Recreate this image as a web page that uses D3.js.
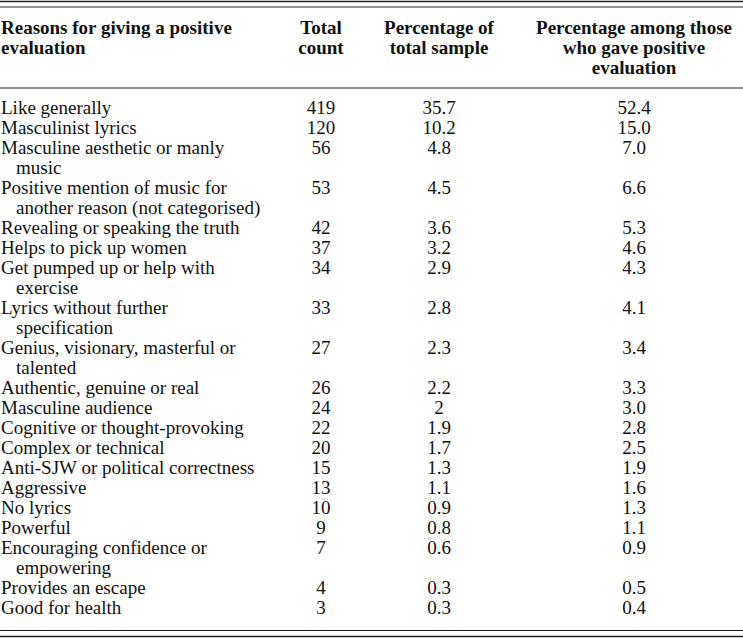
<!DOCTYPE html>
<html>
<head>
<meta charset="utf-8">
<script src="https://cdn.jsdelivr.net/npm/d3@7"></script>
<style>
  html, body { margin: 0; padding: 0; background: #fff; }
  svg { display: block; }
</style>
</head>
<body>
<svg id="chart" width="743" height="638"></svg>
<script>
// ---------- data ----------
const headers = [
  ["Reasons for giving a positive", "evaluation"],
  ["Total", "count"],
  ["Percentage of", "total sample"],
  ["Percentage among those", "who gave positive", "evaluation"]
];
const reasons = [
  ["Like generally"],
  ["Masculinist lyrics"],
  ["Masculine aesthetic or manly", "music"],
  ["Positive mention of music for", "another reason (not categorised)"],
  ["Revealing or speaking the truth"],
  ["Helps to pick up women"],
  ["Get pumped up or help with", "exercise"],
  ["Lyrics without further", "specification"],
  ["Genius, visionary, masterful or", "talented"],
  ["Authentic, genuine or real"],
  ["Masculine audience"],
  ["Cognitive or thought-provoking"],
  ["Complex or technical"],
  ["Anti-SJW or political correctness"],
  ["Aggressive"],
  ["No lyrics"],
  ["Powerful"],
  ["Encouraging confidence or", "empowering"],
  ["Provides an escape"],
  ["Good for health"]
];
const totalCount = [419, 120, 56, 53, 42, 37, 34, 33, 27, 26, 24, 22, 20, 15, 13, 10, 9, 7, 4, 3];
const pctTotal = ["35.7", "10.2", "4.8", "4.5", "3.6", "3.2", "2.9", "2.8", "2.3", "2.2", "2", "1.9", "1.7", "1.3", "1.1", "0.9", "0.8", "0.6", "0.3", "0.3"];
const pctPositive = ["52.4", "15.0", "7.0", "6.6", "5.3", "4.6", "4.3", "4.1", "3.4", "3.3", "3.0", "2.8", "2.5", "1.9", "1.6", "1.3", "1.1", "0.9", "0.5", "0.4"];

// ---------- layout ----------
const W = 743, H = 638;
const FONT = "'Liberation Serif', 'Times New Roman', serif";
const FS = 19;
const svg = d3.select("#chart");

// line index -> baseline y
const headerY = d3.scaleLinear().domain([0, 1]).range([34, 54]);
const totalLines = d3.sum(reasons, r => r.length);
const bodyY = d3.scaleLinear().domain([0, totalLines - 1]).range([114, 614]);

// column positions: first column left aligned, others centered
const colX = d3.scaleOrdinal().domain([0, 1, 2, 3]).range([1, 321, 439, 634]);
const indent = 15;

// rules
const rules = [
  {y: 1.5, w: 1.3}, {y: 7, w: 1}, {y: 88, w: 1.2},
  {y: 630.5, w: 1}, {y: 636.5, w: 1.3}
];
svg.selectAll("line.rule").data(rules).join("line")
  .attr("class", "rule")
  .attr("x1", 0).attr("x2", W)
  .attr("y1", d => d.y).attr("y2", d => d.y)
  .attr("stroke", "#222").attr("stroke-width", d => d.w);

// headers
const hg = svg.append("g").attr("font-family", FONT).attr("font-size", FS)
  .attr("font-weight", "bold").attr("fill", "#111");
headers.forEach((lines, c) => {
  lines.forEach((t, i) => {
    hg.append("text")
      .attr("x", colX(c))
      .attr("y", headerY(i))
      .attr("text-anchor", c === 0 ? "start" : "middle")
      .text(t);
  });
});

// body
const bg = svg.append("g").attr("font-family", FONT).attr("font-size", FS).attr("fill", "#111");
let line = 0;
reasons.forEach((lines, r) => {
  const y0 = bodyY(line);
  lines.forEach((t, i) => {
    bg.append("text")
      .attr("x", colX(0) + (i > 0 ? indent : 0))
      .attr("y", bodyY(line + i))
      .text(t);
  });
  [totalCount[r], pctTotal[r], pctPositive[r]].forEach((v, k) => {
    bg.append("text")
      .attr("x", colX(k + 1))
      .attr("y", y0)
      .attr("text-anchor", "middle")
      .text(v);
  });
  line += lines.length;
});
</script>
</body>
</html>
